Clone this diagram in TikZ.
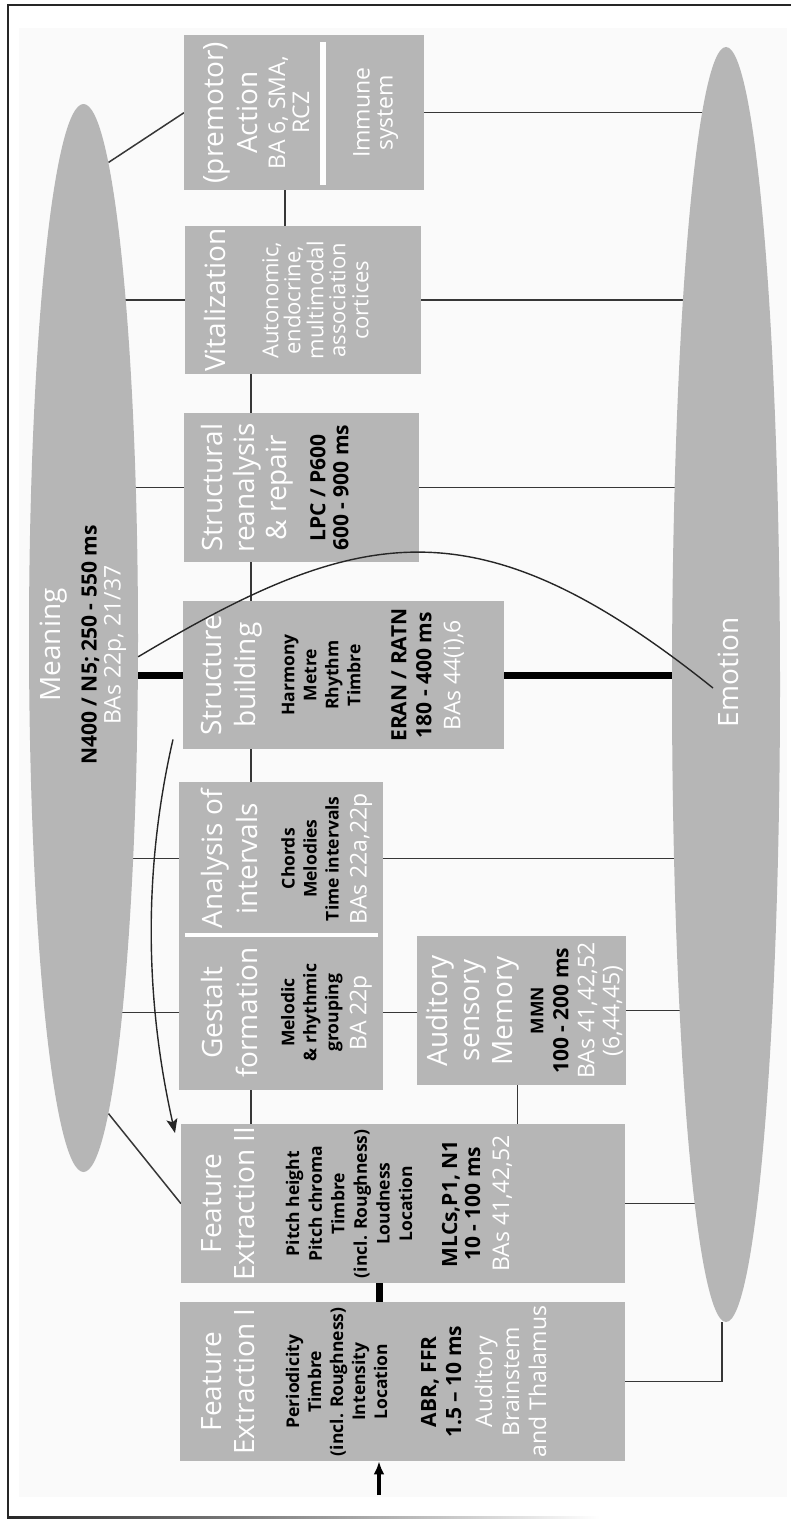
\documentclass[tikz,border=0pt]{standalone}
\usepackage{fontspec}
\setmainfont{Open Sans}
\usepackage{xcolor}
\usetikzlibrary{shapes.geometric,arrows.meta,positioning}
\pgfdeclarelayer{background}
\pgfsetlayers{background,main}

\definecolor{boxgray}{RGB}{182,182,182}
\definecolor{linkgray}{RGB}{55,55,55}
\definecolor{paper}{RGB}{250,250,250}

\newcommand\listfont{\fontsize{17.5}{0}\selectfont\bfseries\lineskiplimit=-\maxdimen\relax}
\newcommand\titlefont{\fontsize{28}{0}\selectfont\mdseries\color{white}}
\newcommand\timefont{\fontsize{21}{0}\selectfont\bfseries}
\newcommand\areafont{\fontsize{23}{0}\selectfont\mdseries\color{white}}
\newcommand\plainfont{\fontsize{22}{0}\selectfont\mdseries\color{white}}

\begin{document}
\begin{tikzpicture}[
  x=1pt, y=-1pt,
  box/.style={fill=boxgray, inner sep=0pt, anchor=north west},
  lobe/.style={ellipse, fill=boxgray, inner sep=0pt},
  boxtext/.style={rotate=90, anchor=north, align=center, inner sep=0pt, font=\listfont},
  link/.style={draw=linkgray, line width=1.5pt},
  heavylink/.style={draw=black, line width=7pt},
  divider/.style={draw=white, line width=4pt},
  curvelink/.style={draw=black!85, line width=1.4pt},
  inarrow/.style={-{Latex[length=13pt,width=11pt]}, line width=4pt},
  edgeline/.style={draw=black!85, line width=1.8pt}
]
\useasboundingbox (0,0) rectangle (791,1520);

\node[lobe, minimum width=109pt, minimum height=1068pt] (meaning) at (83.5,638) {};
\node[lobe, minimum width=108pt, minimum height=1275pt] (emotion) at (726,684.5) {};

\node[box, minimum width=445pt, minimum height=159pt] (fe1) at (180,1302) {};
\node[box, minimum width=444pt, minimum height=159pt] (fe2) at (181,1124) {};
\node[box, minimum width=204pt, minimum height=155pt] (gestalt) at (179,935) {};
\node[box, minimum width=204pt, minimum height=153pt] (intervals) at (179,782) {};
\node[box, minimum width=209pt, minimum height=149pt] (memory) at (417,936) {};
\node[box, minimum width=321pt, minimum height=148pt] (building) at (183,601) {};
\node[box, minimum width=235pt, minimum height=149pt] (repair) at (184,413) {};
\node[box, minimum width=236pt, minimum height=148pt] (vital) at (185,226) {};
\node[box, minimum width=139pt, minimum height=155pt] (action) at (184,35) {};
\node[box, minimum width=101pt, minimum height=155pt] (immune) at (323,35) {};

\draw[divider] ([xshift=6pt]gestalt.north west) -- ([xshift=-5pt]gestalt.north east);
\draw[divider, line width=6pt] ([yshift=-7pt]immune.north west) -- ([yshift=5pt]immune.south west);

\node[boxtext] (fe1text) at ([xshift=21pt]fe1.west) {\titlefont Feature\\[33pt]
  \titlefont Extraction I\\[45pt]
  Periodicity\\[22pt]
  Timbre\\[22pt]
  (incl. Roughness)\\[22pt]
  Intensity\\[22pt]
  Location\\[49pt]
  \timefont ABR, FFR\\[25pt]
  \timefont 1.5 -- 10 ms\\[31pt]
  \areafont Auditory\\[27pt]
  \areafont Brainstem\\[27pt]
  \areafont and Thalamus};

\node[boxtext] (fe2text) at ([xshift=20pt]fe2.west) {\titlefont Feature\\[33pt]
  \titlefont Extraction II\\[45pt]
  Pitch height\\[22.6pt]
  Pitch chroma\\[22.6pt]
  Timbre\\[22.6pt]
  (incl. Roughness)\\[22.6pt]
  Loudness\\[22.6pt]
  Location\\[45pt]
  \timefont MLCs,P1, N1\\[23pt]
  \timefont 10 - 100 ms\\[29pt]
  \areafont BAs 41,42,52};

\node[boxtext] (gestalttext) at ([xshift=22pt]gestalt.west) {\titlefont Gestalt\\[35pt]
  \titlefont formation\\[37pt]
  Melodic\\[22pt]
  \& rhythmic\\[22pt]
  grouping\\[28pt]
  \areafont BA 22p};

\node[boxtext] (intervalstext) at ([xshift=22pt]intervals.west) {\titlefont Analysis of\\[35pt]
  \titlefont intervals\\[37pt]
  Chords\\[22pt]
  Melodies\\[22pt]
  Time intervals\\[28pt]
  \areafont BAs 22a,22p};

\node[boxtext] (memorytext) at ([xshift=9pt]memory.west) {\titlefont Auditory\\[32pt]
  \titlefont sensory\\[33pt]
  \titlefont Memory\\[31pt]
  MMN\\[25pt]
  \timefont 100 - 200 ms\\[26pt]
  \areafont BAs 41,42,52\\[25pt]
  \areafont (6,44,45)};

\node[boxtext] (buildingtext) at ([xshift=18pt]building.west) {\titlefont Structure\\[34pt]
  \titlefont building\\[39pt]
  Harmony\\[22pt]
  Metre\\[22pt]
  Rhythm\\[22pt]
  Timbre\\[46pt]
  \timefont ERAN / RATN\\[25pt]
  \timefont 180 - 400 ms\\[29pt]
  \areafont BAs 44(i),6};

\node[boxtext] (repairtext) at ([xshift=17pt]repair.west) {\titlefont Structural\\[32pt]
  \titlefont reanalysis\\[32pt]
  \titlefont \& repair\\[39pt]
  \timefont LPC / P600\\[23pt]
  \timefont 600 - 900 ms};

\node[boxtext] (vitaltext) at ([xshift=19pt]vital.west) {\titlefont Vitalization\\[53pt]
  \plainfont Autonomic,\\[22pt]
  \plainfont endocrine,\\[23pt]
  \plainfont multimodal\\[22pt]
  \plainfont association\\[23pt]
  \plainfont cortices};

\node[boxtext] (actiontext) at ([xshift=19pt]action.west) {\titlefont (premotor)\\[34pt]
  \titlefont Action\\[28pt]
  \areafont BA 6, SMA,\\[24pt]
  \areafont RCZ};

\node[boxtext] (immunetext) at ([xshift=30pt]immune.west) {\areafont Immune\\[23pt]
  \areafont system};

\node[boxtext] (meaningtext) at ([xshift=11pt,yshift=-7pt]meaning.west) {\titlefont Meaning\\[36pt]
  \timefont N400 / N5; 250 - 550 ms\\[24pt]
  \areafont BAs 22p, 21/37};

\node[rotate=90, font=\titlefont] (emotiontext) at ([xshift=2pt,yshift=12pt]emotion.center) {Emotion};

\coordinate (spine) at (251,0);
\coordinate (input) at (379,1495);

\begin{pgfonlayer}{background}
\fill[paper] (19,28) rectangle (787,1497);
\draw[edgeline] (791,5) -- (8,5) -- (8,1517);
\shade[left color=black!85, right color=white] (7.1,1516) rectangle (600,1518.5);

\draw[link] (action.west) -- (meaning.87);
\draw[link] (vital.west) -- (vital.west -| meaning.center);
\draw[link] (repair.west) -- (repair.west -| meaning.center);
\draw[heavylink] (building.west) -- (building.west -| meaning.center);
\draw[link] (intervals.west) -- (intervals.west -| meaning.center);
\draw[link] (gestalt.west) -- (gestalt.west -| meaning.center);
\draw[link] (fe2.west) -- (meaning.-87);

\draw[link] (immune.east) -- (immune.east -| emotion.center);
\draw[link] (vital.east) -- (vital.east -| emotion.center);
\draw[link] (repair.east) -- (repair.east -| emotion.center);
\draw[heavylink] (building.east) -- (building.east -| emotion.center);
\draw[link] (intervals.east) -- (intervals.east -| emotion.center);
\draw[link] (memory.east) -- (memory.east -| emotion.center);
\draw[link] (fe2.east) -- (fe2.east -| emotion.center);
\draw[link] (fe1.east) -| ([xshift=-4pt]emotion.south);

\draw[link] ([xshift=31.5pt]action.south) -- ([xshift=31.5pt]action.south |- vital.north);
\draw[link] (spine |- vital.south) -- (spine |- repair.north);
\draw[link] (spine |- repair.south) -- (spine |- building.north);
\draw[link] (spine |- building.south) -- (spine |- intervals.north);
\draw[link] (spine |- gestalt.south) -- (spine |- fe2.north);
\draw[link] (gestalt.east) -- (gestalt.east -| memory.west);
\draw[link] ([xshift=-4pt]memory.south) -- ([xshift=-4pt]memory.south |- fe2.north);
\draw[heavylink] (input |- fe1.north) -- (input |- fe2.south);
\end{pgfonlayer}

\draw[inarrow] (input) -- (input |- fe1.south);
\draw[curvelink] (meaning.-19) .. controls (359,525) and (477,499) .. ([xshift=-13pt,yshift=-3.5pt]emotion.center);
\draw[curvelink, -{Stealth[length=14pt,width=11pt,inset=3pt]}] ([xshift=-10pt,yshift=10pt]building.south west) .. controls (143,870) and (145,1000) .. ([xshift=-6pt,yshift=-9pt]fe2.north west);
\end{tikzpicture}
\end{document}
